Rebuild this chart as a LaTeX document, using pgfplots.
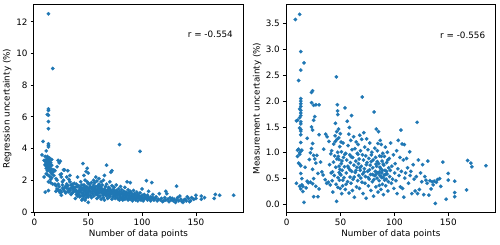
\documentclass[border=0pt]{standalone}
\usepackage{fontspec}
\setmainfont{DejaVu Sans}
\usepackage{pgfplots}
\pgfplotsset{compat=1.18}
\definecolor{mblue}{HTML}{1F77B4}
\begin{document}
\fontsize{8.8}{10.5}\selectfont
\begin{tikzpicture}
\path[use as bounding box] (-33.7pt,-31.3pt) rectangle (466.3pt,212.7pt);
\pgfplotsset{
 myax/.style={scale only axis, width=209.6pt, height=208.4pt,
  axis line style={line width=0.7pt}, tick align=outside,
  xtick pos=bottom, ytick pos=left, major tick length=3.1pt,
  every tick/.style={black, line width=0.7pt},
  tick label style={font=\fontsize{8.8}{10}\selectfont},
  /pgf/number format/assume math mode=true,
  label style={font=\fontsize{8.8}{10}\selectfont},
  every axis x label/.style={at={(axis description cs:0.5,0)}, anchor=center, yshift=-21.6pt},
  xmin=-0.7, xmax=194, xtick={0,50,100,150},
  xlabel={Number of data points}},
 mydots/.style={only marks, mark=*, mark size=1.8pt, mark options={fill=mblue, draw=mblue, line width=0.2pt}}
}
\begin{axis}[myax, at={(0,0)}, anchor=south west,
  ymin=-0.05, ymax=13.1, ytick={0,2,4,6,8,10,12},
  every axis y label/.style={at={(axis description cs:0,0.5)}, xshift=-26.4pt, rotate=90, anchor=center},
  ylabel={Regression uncertainty (\%)}]
\addplot[mydots] coordinates {
(7,3.6)(8,4.45)(9,2.2)(10,1.25)(10,3.2)(10,3.0)(11,3.1)(11,2.9)(11,3.3)(11,3.85)(12,3.5)(12,3.2)(12,3.0)(12,2.8)(12,6.15)(12,2.6)
(13,12.5)(13,6.5)(13,6.4)(13,6.1)(13,5.7)(13,5.25)(13,4.3)(13,4.2)(13,4.1)(13,3.3)(13,3.1)(13,2.95)(13,1.9)(13,1.35)
(14,3.2)(14,3.05)(14,2.85)(14,2.7)(14,3.0)(15,3.1)(15,2.6)(15,2.5)(15,1.85)(16,2.7)(16,2.4)(16,3.3)(17,9.05)(17,2.5)(17,1.75)
(18,2.3)(19,2.6)(20,1.65)(21,2.0)(22,3.25)(23,3.1)(24,3.2)(22,1.4)(23,1.3)(24,1.2)(25,2.4)(25,2.2)(26,1.5)(26,1.9)(27,2.0)
(28,2.65)(28,1.3)(29,1.6)(30,2.2)(31,2.6)(31,1.3)(32,1.45)(33,2.3)(33,1.9)(34,1.7)(35,1.55)(35,1.2)(36,1.4)(37,1.8)(38,0.85)
(38,1.3)(39,1.1)(40,1.6)(40,2.2)(41,1.3)(42,1.45)(43,1.0)(43,1.9)(44,1.2)(44,0.75)(45,3.05)(45,1.5)(46,1.35)(46,1.7)(47,1.1)
(47,2.0)(48,2.55)(48,1.6)(48,0.9)(49,2.75)(49,1.25)(50,2.45)(50,0.6)(50,1.45)(50,1.8)
(9,3.25)(10,2.95)(11,2.75)(12,3.4)(14,3.4)(15,2.9)(16,2.95)(13,2.65)(10,3.5)(11,2.4)(12,2.35)(14,2.25)(15,2.05)(16,2.15)
(18,2.65)(19,1.75)(20,2.1)(21,2.85)
(20,1.3)(21,1.45)(22,1.75)(23,1.6)(24,2.35)(24,1.35)(25,1.25)(25,1.05)(26,1.7)(27,1.4)(27,2.65)(28,1.55)(29,1.2)(30,1.5)
(30,1.75)(31,1.65)(32,1.25)(32,2.05)(33,1.35)(34,1.5)(34,1.1)(35,1.75)(36,1.6)(36,1.25)(37,1.45)(38,1.55)(39,1.75)(39,1.35)
(40,1.2)(40,1.0)
(41,1.65)(41,1.1)(42,1.25)(42,0.95)(43,1.55)(43,1.35)(44,1.45)(44,1.7)(45,1.2)(45,1.05)(45,0.85)(46,1.55)(46,1.0)(46,2.3)
(47,1.45)(47,1.3)(47,0.75)(48,1.2)(48,1.4)(49,1.55)(49,1.05)(49,1.9)(50,1.3)(50,1.15)(50,0.95)(51,1.5)(51,1.35)(51,1.75)
(52,1.25)(52,1.6)(52,1.05)(53,1.45)(53,1.85)(53,0.9)(54,1.3)(54,1.55)(54,1.15)(55,1.4)(55,1.7)(55,2.0)(55,1.0)(56,1.25)
(56,1.5)(56,1.85)(57,2.2)(57,1.35)(57,1.1)(57,1.6)(58,1.4)(58,1.2)(58,1.95)(58,0.85)(59,1.5)(59,1.3)(59,1.65)(59,1.05)
(60,1.45)(60,1.2)(60,1.75)(60,0.95)(60,2.1)
(61,1.35)(61,1.6)(61,1.0)(62,1.25)(62,1.5)(62,1.9)(62,0.8)(63,1.15)(63,1.4)(63,1.7)(64,1.3)(64,1.05)(64,2.0)(64,0.9)
(65,1.2)(65,2.3)(65,1.45)(65,0.75)(66,1.1)(66,1.35)(66,1.6)(67,2.95)(67,1.25)(67,1.0)(67,1.75)(68,1.15)(68,1.4)(68,0.85)
(69,1.3)(69,1.05)(69,1.55)(70,1.2)(70,1.9)(70,0.95)(70,1.45)(71,2.5)(71,1.1)(71,1.35)(72,2.6)(72,1.25)(72,0.8)(72,1.65)
(73,1.15)(73,1.4)(73,0.95)(74,1.05)(74,1.3)(74,1.55)(75,1.2)(75,0.85)(75,1.0)(76,1.35)(76,1.1)(76,1.7)(77,0.9)(77,1.25)
(77,1.05)(78,1.15)(78,1.45)(78,0.8)(79,4.25)(79,1.0)(79,1.3)(79,0.75)(80,1.1)(80,1.6)(80,0.9)
(81,1.2)(81,0.85)(81,1.4)(82,1.0)(82,1.15)(82,0.75)(83,1.3)(83,0.9)(83,1.05)(84,1.15)(84,1.55)(84,0.8)(85,0.95)(85,1.25)
(85,1.1)(86,1.9)(86,0.85)(86,1.05)(87,1.2)(87,0.75)(87,1.4)(88,1.0)(88,0.9)(88,1.15)(89,1.85)(89,1.3)(89,0.8)(90,1.05)
(90,0.95)(90,1.2)(91,0.85)(91,1.1)(91,0.7)(92,1.0)(92,1.35)(92,0.8)(93,0.9)(93,1.15)(94,1.05)(94,0.75)(95,0.95)(95,1.25)
(95,0.85)(96,1.1)(96,0.7)(97,0.9)(97,1.0)(98,3.82)(98,0.8)(98,1.2)(99,0.95)(99,0.75)(100,1.05)(100,0.85)(100,1.45)
(101,0.9)(101,0.7)(102,1.1)(102,0.8)(103,0.95)(104,1.97)(104,0.85)(105,1.05)(105,0.75)(106,0.9)(106,1.3)(107,0.8)
(108,0.95)(108,0.7)(109,1.85)(109,0.85)(110,0.9)(110,1.1)(111,0.75)(112,0.85)(113,0.95)(114,0.7)(115,0.8)(116,1.15)
(117,0.75)(118,0.85)(119,0.65)(120,0.7)(121,0.9)(122,1.3)(122,0.75)(123,1.15)(124,0.8)(125,0.65)(126,0.9)(127,0.75)
(128,0.85)(129,0.7)(130,0.8)
(131,0.6)(132,1.62)(132,0.75)(133,0.9)(134,0.7)(135,1.0)(136,0.8)(137,0.65)(138,0.6)(139,0.75)(140,0.8)(141,0.7)
(142,0.95)(143,0.85)(144,0.65)(145,0.7)(146,0.9)(148,0.8)(150,1.05)(150,0.85)(155,1.0)(155,0.8)(158,0.9)(167,0.85)
(168,1.1)(172,1.05)(185,1.05)
};
\node[anchor=east] at (rel axis cs:0.965,0.855) {r = -0.554};
\end{axis}
\begin{axis}[myax, at={(252.3pt,0)}, anchor=south west,
  ymin=-0.16, ymax=3.875, ytick={0,0.5,1,1.5,2,2.5,3,3.5},
  yticklabel style={/pgf/number format/.cd, fixed, fixed zerofill, precision=1},
  every axis y label/.style={at={(axis description cs:0,0.5)}, xshift=-28.7pt, rotate=90, anchor=center},
  ylabel={Measurement uncertainty (\%)}]
\addplot[mydots] coordinates {
(8,3.58)(12,3.68)(13,2.96)(16,2.74)(13,2.6)(11,2.4)(9,1.62)(10,1.63)(9,0.41)(11,1.07)(10,0.93)(11,0.8)(12,0.78)(10,1.05)
(12,0.97)(13,1.03)(12,1.0)
(13,2.05)(13,2.0)(13,1.95)(13,1.9)(12,1.85)(13,1.82)(13,1.77)(13,1.72)(12,1.68)(13,1.6)(13,1.56)(12,1.48)(13,1.45)(13,1.42)
(13,1.35)(13,1.2)(14,1.05)(13,0.75)(13,0.6)(12,0.35)(13,0.3)(14,0.38)(15,0.35)(14,0.5)(15,0.25)(16,0.04)(17,0.72)(18,0.32)
(19,1.28)(19,0.45)(20,0.42)(21,0.87)(22,0.43)(23,2.17)(24,2.2)(23,1.97)(25,1.92)(27,1.93)(30,1.93)(25,1.63)(26,1.7)(23,1.5)
(24,1.44)(30,1.35)(24,1.18)(23,1.08)(25,0.95)(26,0.88)(27,0.8)(24,0.68)(25,0.5)(24,0.4)(27,0.35)(25,0.15)(29,0.15)(30,0.3)
(28,0.95)(29,0.6)(22,1.0)
(31.4,0.82)(32.6,0.63)(33.8,0.57)(34.3,1.07)(35.7,0.48)(36.2,1.36)(37.5,1.31)(37.1,0.41)(38.6,0.43)(39.2,1.22)(39.8,0.77)
(40.4,0.38)(40.9,0.98)(41.3,0.61)(41.7,1.04)(42.2,0.46)(42.8,0.24)(43.4,0.82)(43.6,1.17)(44.1,0.56)(44.9,1.33)(45.2,1.57)
(45.5,0.72)(45.8,0.39)(46.1,2.47)(46.3,0.06)(46.4,1.41)(46.7,1.26)(47.0,1.93)(47.2,1.81)(47.4,1.74)(47.6,0.52)(47.9,0.93)
(48.1,1.46)(48.3,1.29)(48.5,0.87)(48.7,0.62)(48.9,0.47)(49.2,1.12)(49.4,0.68)(49.6,0.31)(49.8,1.37)(50.3,0.57)(50.6,0.79)
(50.8,1.02)(51.1,0.21)(51.5,0.66)(51.9,0.36)(52.4,1.19)(52.7,0.91)(53.2,0.52)(53.6,0.73)(54.1,1.87)(54.4,0.29)(54.8,0.99)
(55.3,0.61)(55.7,0.86)(56.2,1.61)(56.5,0.44)(56.9,1.14)(57.3,0.71)(57.6,1.36)(57.9,0.22)(58.2,1.49)(58.5,0.96)(58.8,0.53)
(59.1,0.81)(59.4,1.24)(59.7,0.41)(60.2,1.72)(60.4,0.64)(60.7,1.06)(60.9,0.27)
(42.5,0.63)(44.5,0.94)(46.5,0.88)(47.5,0.33)(49.5,0.59)(50.5,1.21)(52.1,0.47)(53.9,0.97)(55.1,0.39)(56.8,0.74)(58.6,0.67)
(59.9,0.92)(45.1,1.22)(47.3,1.01)(48.6,0.74)(51.2,0.84)
(61.2,0.91)(61.6,0.49)(62.1,1.31)(62.4,0.76)(62.8,0.14)(63.3,1.08)(63.7,0.62)(64.1,0.84)(64.5,1.21)(64.8,0.34)(65.2,0.72)
(65.5,0.99)(65.9,0.46)(66.3,1.16)(66.6,0.79)(66.9,0.56)(67.2,0.88)(67.5,0.31)(67.8,1.34)(68.2,0.66)(68.5,1.04)(68.8,0.51)
(69.2,0.74)(69.6,1.26)(70.1,2.08)(70.3,0.96)(70.6,0.59)(70.9,0.21)(71.3,0.86)(71.6,1.39)(72.1,0.69)(72.4,1.11)(72.7,0.41)
(73.1,0.54)(73.4,0.94)(73.7,0.12)(74.2,1.27)(74.6,0.81)(75.1,0.64)(75.4,1.06)(75.8,0.36)(76.2,0.89)(76.6,0.49)(77.1,1.19)
(77.5,0.76)(77.9,0.58)(78.2,0.27)(78.6,0.96)(79.1,1.01)(79.5,0.44)(79.9,0.71)(80.2,0.86)(80.6,0.16)(81.1,1.79)(81.4,0.56)
(81.8,1.09)(82.2,0.64)(82.5,0.91)(82.8,0.34)(83.2,1.46)(83.5,0.74)(83.8,0.51)(84.2,1.04)(84.5,0.61)(84.8,0.24)(85.2,1.41)
(85.5,0.79)(85.8,0.46)(86.2,0.94)(86.5,0.56)(86.8,1.24)(87.2,0.69)(87.5,0.29)(87.8,1.16)(88.2,0.61)(88.5,0.84)(88.8,0.39)
(89.2,0.99)(89.5,0.52)(89.8,0.19)(90.1,0.76)(90.4,0.57)(90.7,0.93)
(62.6,0.53)(64.3,0.66)(66.1,0.97)(67.9,0.71)(69.9,0.43)(71.9,0.63)(73.9,0.77)(75.6,0.52)(76.9,0.67)(78.4,0.83)(79.7,0.58)
(80.9,0.48)(82.4,0.57)(83.6,0.62)(84.1,0.83)(85.4,0.61)(86.6,0.72)(87.4,0.54)(88.9,0.66)(89.6,0.78)(90.9,0.47)(91.8,0.58)
(92.6,0.64)(93.8,0.86)(85.9,0.37)(87.9,0.93)(84.7,1.18)(82.9,0.78)(86.1,0.63)(88.3,0.52)
(91.3,0.66)(91.6,1.11)(91.9,0.36)(92.3,0.49)(92.8,0.81)(93.2,0.59)(93.5,1.01)(93.9,0.26)(94.3,0.44)(94.7,0.71)(95.2,0.89)
(95.6,0.54)(96.1,0.66)(96.5,1.19)(97.2,0.41)(97.6,0.74)(98.3,0.49)(99.1,0.96)(99.5,0.31)(100.2,0.61)(100.7,0.79)(101.4,0.46)
(102.1,1.04)(102.5,0.21)(103.2,0.69)(103.6,1.24)(104.3,0.56)(105.1,0.91)(105.5,0.34)(106.1,1.44)(106.5,0.64)(107.2,1.17)
(107.6,0.31)(108.3,0.86)(108.7,0.14)(109.2,1.16)(109.6,0.51)(110.4,0.61)(111.3,0.89)(112.2,0.71)(113.1,0.41)(114.2,1.02)
(114.6,0.56)(115.3,0.64)(116.2,0.21)(117.4,0.77)(118.3,0.49)(119.2,0.26)(120.3,0.54)(121.1,1.59)(121.5,0.21)(122.3,0.86)
(123.2,0.29)(124.3,0.61)(125.4,0.44)(126.2,0.77)(127.3,0.19)(128.2,0.54)(129.3,0.47)(130.4,0.41)
(131,0.84)(132,0.18)(133,0.46)(134,0.3)(135,0.44)(136,0.38)(137,0.45)(138,0.02)(139,0.43)(140,0.48)(142,0.5)(143,0.35)
(145,0.82)(148,0.1)(150,0.6)(150,0.47)(156,0.45)(156,0.23)(156,0.15)(167,0.28)(168,0.85)(171,0.8)(172,0.73)(185,0.75)
};
\node[anchor=east] at (rel axis cs:0.965,0.852) {r = -0.556};
\end{axis}
\end{tikzpicture}
\end{document}
